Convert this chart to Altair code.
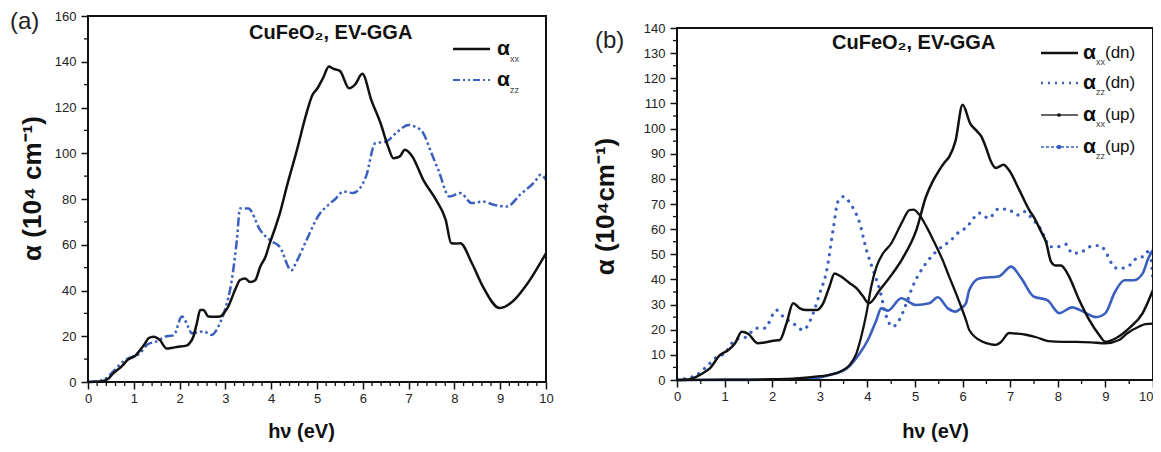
import altair as alt
import pandas as pd

# ---------------- Panel (a) data ----------------
a_xx_e = [0, 0.3, 0.45, 0.55, 0.73, 0.88, 1.03, 1.14, 1.25, 1.32, 1.43, 1.57, 1.72, 1.85, 1.94, 2.15,
          2.22, 2.3, 2.38, 2.45, 2.52, 2.63, 2.75, 2.88, 3.0, 3.06, 3.21, 3.32, 3.43, 3.54, 3.65, 3.76,
          3.88, 3.97, 4.08, 4.19, 4.34, 4.57, 4.75, 4.9, 5.01, 5.13, 5.26, 5.35, 5.5, 5.7, 5.83, 5.99,
          6.19, 6.39, 6.55, 6.67, 6.8, 6.92, 7.08, 7.32, 7.6, 7.81, 7.93, 8.05, 8.13, 8.38, 8.62, 8.99,
          9.27, 9.6, 10]
a_xx_v = [0, 0.3, 1.5, 3.8, 6.7, 9.9, 11.4, 14, 17, 19.1, 19.8, 18.3, 14.6, 15, 15.3, 15.9,
          17, 19.8, 26, 31.5, 31.5, 28.6, 28.5, 28.6, 31, 32.9, 40.2, 44.6, 45.2, 43.7, 44.5, 50.4,
          55, 60.7, 67, 73.8, 85.4, 102, 116, 125.5, 128.4, 132.8, 137.9, 137, 136, 128.4, 130, 134.7,
          123, 113, 103, 97.8, 98.5, 101.5, 98.6, 88.4, 79.6, 70.9, 60.7, 60.5, 60.7, 52, 41.8, 32.3,
          35.2, 43.2, 56.3]

a_zz_e = [0, 0.33, 0.55, 0.77, 0.99, 1.14, 1.29, 1.5, 1.72, 1.87, 2.05, 2.2, 2.26, 2.52, 2.7, 2.88,
          2.99, 3.14, 3.25, 3.32, 3.5, 3.76, 3.97, 4.19, 4.44, 4.55, 4.77, 5.06, 5.21, 5.4, 5.58, 5.78,
          6.07, 6.27, 6.51, 6.76, 7.0, 7.15, 7.32, 7.5, 7.65, 7.89, 8.13, 8.38, 8.62, 8.86, 9.15, 9.43,
          9.76, 9.88, 10]
a_zz_v = [0, 0.9, 4.6, 9, 11.2, 12.6, 16.3, 17.8, 20, 20.4, 28.6, 23.6, 21.3, 22.1, 20.6, 25.7,
          31.5, 44.6, 62, 75.9, 75.9, 66.4, 62, 59, 48.8, 52.5, 62, 73.6, 76.7, 80, 83.3, 82.6,
          89.8, 104.4, 105.1, 109.5, 112.4, 111.5, 108.8, 100, 92.7, 81.1, 82.6, 78.2, 78.9, 77.5, 76.7, 81.8,
          87.7, 90.6, 88.4]

# ---------------- Panel (b) data ----------------
b_xxdn_e = [0, 0.25, 0.41, 0.55, 0.69, 0.9, 1.08, 1.22, 1.36, 1.5, 1.7, 2.02, 2.16, 2.3, 2.44, 2.58,
            2.72, 2.93, 3.07, 3.2, 3.31, 3.45, 3.63, 3.77, 3.9, 4.03, 4.26, 4.53, 4.74, 5.03, 5.23, 5.37,
            5.51, 5.62, 5.72, 5.85, 6.0, 6.16, 6.3, 6.39, 6.5, 6.58, 6.7, 6.86, 6.97, 7.19, 7.4, 7.52,
            7.65, 7.75, 7.86, 7.96, 8.07, 8.15, 8.24, 8.45, 8.66, 8.87, 9.0, 9.22, 9.5, 9.78, 10]
b_xxdn_v = [0, 0.2, 1.3, 2.8, 4.6, 9.9, 11.9, 14.6, 19.2, 18.3, 14.6, 15.6, 15.9, 22.5, 30.5, 28.5,
            27.8, 27.8, 30.5, 37, 42.4, 41.1, 38.5, 36.5, 33.5, 30.5, 35.8, 42.4, 48.4, 59.7, 72.9, 78.9,
            83.5, 86.5, 88.8, 95, 109.5, 102, 99, 97, 92, 87.6, 84.3, 85.6, 83.6, 75.6, 67.6, 64,
            59, 55, 47, 45.5, 45.5, 44, 41, 31.8, 23.9, 17.9, 15.2, 16.6, 20.6, 26.5, 35.8]

b_zzdn_e = [0, 0.41, 0.62, 0.8, 1.0, 1.22, 1.46, 1.67, 1.84, 2.09, 2.23, 2.44, 2.65, 2.86, 3.0, 3.14,
            3.28, 3.38, 3.49, 3.66, 3.84, 3.98, 4.12, 4.26, 4.4, 4.53, 4.67, 4.82, 4.95, 5.23, 5.48, 5.76,
            5.93, 6.1, 6.2, 6.35, 6.55, 6.75, 6.94, 7.15, 7.3, 7.47, 7.63, 7.72, 7.83, 8.0, 8.17, 8.3,
            8.47, 8.64, 8.85, 9.0, 9.1, 9.26, 9.46, 9.65, 9.83, 9.93, 10]
b_zzdn_v = [0, 2, 5.3, 8.6, 10.6, 15.9, 17.2, 20.6, 20.6, 27.8, 25.2, 22.5, 19.9, 26.5, 34.5, 43.1,
            59.7, 70.9, 72.9, 69.6, 62.3, 51.7, 43.7, 35.8, 25.2, 21.2, 23.9, 30.5, 37.1, 46.4, 51.7, 55.7,
            59, 61, 63.6, 66.4, 64.3, 68, 68, 65.6, 67, 63.9, 60.3, 57, 53, 53, 54, 50.4,
            50.6, 52.8, 53.5, 51.3, 47.3, 44.3, 45, 48.3, 49.4, 52, 38.8]

b_xxup_e = [0, 1.0, 2.0, 2.5, 3.0, 3.3, 3.42, 3.63, 3.77, 3.87, 3.98, 4.08, 4.19, 4.33, 4.5, 4.61,
            4.75, 4.88, 4.97, 5.08, 5.24, 5.4, 5.58, 5.72, 5.86, 6.07, 6.14, 6.42, 6.6, 6.7, 6.8, 6.98,
            7.1, 7.33, 7.55, 7.8, 8.1, 8.4, 8.7, 9.0, 9.29, 9.46, 9.7, 9.84, 10]
b_xxup_v = [0, 0.1, 0.3, 0.6, 1.5, 2.4, 3.3, 6, 10.6, 17.2, 26.5, 37.1, 45, 50.4, 54.3, 58.3,
            63.6, 67.6, 67.8, 66, 61, 55, 47.7, 41, 34.5, 23.9, 19.9, 15.2, 14.2, 14, 15, 18.7,
            18.5, 18, 17, 15.5, 15.2, 15.2, 15, 14.6, 15.9, 18.6, 21.2, 22.2, 22.4]

b_zzup_e = [0, 1.0, 2.0, 2.5, 3.0, 3.2, 3.56, 3.84, 4.01, 4.19, 4.29, 4.43, 4.71, 5.02, 5.3, 5.48,
            5.69, 5.86, 5.93, 6.07, 6.14, 6.35, 6.77, 7.02, 7.23, 7.5, 7.78, 8.03, 8.3, 8.53, 8.8, 9.0,
            9.2, 9.4, 9.6, 9.78, 9.9, 10]
b_zzup_v = [0, 0.05, 0.1, 0.3, 1, 2, 4.5, 10.6, 15.9, 23.9, 28.5, 27.6, 32.5, 29.8, 30.5, 32.9,
            28.5, 27.2, 28, 30.5, 35.8, 40.4, 41.3, 45.1, 40.5, 33.1, 31.8, 26.6, 28.9, 27.2, 25, 26.6,
            35, 39.7, 39.7, 42.3, 48.3, 51.7]

# ---------------- ticks ----------------
a_xticks = [0, 1, 2, 3, 4, 5, 6, 7, 8, 9, 10]
a_yticks = [0, 20, 40, 60, 80, 100, 120, 140, 160]
a_xminor = [0.2, 0.4, 0.6, 0.8, 1.2, 1.4, 1.6, 1.8, 2.2, 2.4, 2.6, 2.8, 3.2, 3.4, 3.6, 3.8,
            4.2, 4.4, 4.6, 4.8, 5.2, 5.4, 5.6, 5.8, 6.2, 6.4, 6.6, 6.8, 7.2, 7.4, 7.6, 7.8,
            8.2, 8.4, 8.6, 8.8, 9.2, 9.4, 9.6, 9.8]
a_yminor = [10, 30, 50, 70, 90, 110, 130, 150]
b_xticks = [0, 1, 2, 3, 4, 5, 6, 7, 8, 9, 10]
b_yticks = [0, 10, 20, 30, 40, 50, 60, 70, 80, 90, 100, 110, 120, 130, 140]
b_xminor = [0.5, 1.5, 2.5, 3.5, 4.5, 5.5, 6.5, 7.5, 8.5, 9.5]
b_yminor = [5, 15, 25, 35, 45, 55, 65, 75, 85, 95, 105, 115, 125, 135]

FONT = "Liberation Sans"
BLACK = "#111111"
BLUE = "#3a5fbf"

# geometry (pixels inside the single plot area)
PW, PH = 1065, 366
A_XR, A_YR = [0, 458], [366, 0]
B_XR, B_YR = [589, 1065], [364, 12]


def mk_axis(**kw):
    return alt.Axis(domain=False, grid=False, ticks=True, tickSize=7, tickWidth=1.5, tickColor=BLACK,
                    labelFont=FONT, labelFontSize=13, labelColor="#222222", labelFlush=False,
                    labelOverlap=False, titleFont=FONT, titleFontWeight="bold", titleColor=BLACK,
                    titleAlign="center", titleBaseline="middle", **kw)


ax_xa = mk_axis(values=a_xticks, orient="bottom", labelPadding=3, title="hν (eV)", titleFontSize=20,
                titleAngle=0, titleX=213, titleY=49)
ax_ya = mk_axis(values=a_yticks, orient="left", labelPadding=5, title="α (10⁴ cm⁻¹)", titleFontSize=26,
                titleAngle=270, titleX=-56, titleY=172)
ax_xb = mk_axis(values=b_xticks, orient="bottom", offset=-2, labelPadding=3, title="hν (eV)",
                titleFontSize=20, titleAngle=0, titleX=847, titleY=51,
                labelAlign={"condition": {"test": "datum.value >= 10", "value": "right"}, "value": "center"})
ax_yb = mk_axis(values=b_yticks, orient="left", offset=-589, labelPadding=5, title="α (10⁴cm⁻¹)",
                titleFontSize=26, titleAngle=270, titleX=-72, titleY=190)

sc_xa = alt.Scale(domain=[0, 10], range=A_XR, nice=False, zero=False)
sc_ya = alt.Scale(domain=[0, 160], range=A_YR, nice=False)
sc_xb = alt.Scale(domain=[0, 10], range=B_XR, nice=False, zero=False)
sc_yb = alt.Scale(domain=[0, 140], range=B_YR, nice=False)


def XA(f):
    return alt.X(f + ":Q", scale=sc_xa, axis=ax_xa)


def YA(f):
    return alt.Y(f + ":Q", scale=sc_ya, axis=ax_ya)


def XB(f):
    return alt.X(f + ":Q", scale=sc_xb, axis=ax_xb)


def YB(f):
    return alt.Y(f + ":Q", scale=sc_yb, axis=ax_yb)


def series(e, v, X, Y, **mk):
    df = pd.DataFrame({"e": e, "v": v})
    return alt.Chart(df).mark_line(interpolate="monotone", **mk).encode(x=X("e"), y=Y("v"))


dummy = pd.DataFrame({"d": [0]})


def txt(s, x, y, size, weight="normal", color=BLACK, align="left", baseline="middle"):
    return alt.Chart(dummy).mark_text(text=s, font=FONT, fontSize=size, fontWeight=weight, color=color,
                                      align=align, baseline=baseline).encode(x=alt.value(x), y=alt.value(y))


def hline(x1, x2, y, color, width, dash=None):
    kw = dict(color=color, strokeWidth=width)
    if dash is not None:
        kw["strokeDash"] = dash
    return alt.Chart(dummy).mark_rule(**kw).encode(x=alt.value(x1), x2=alt.value(x2), y=alt.value(y))


def dot(x, y, color, size=22):
    return alt.Chart(dummy).mark_point(filled=True, color=color, size=size, opacity=1).encode(
        x=alt.value(x), y=alt.value(y))


def frame(x1, x2, y1, y2):
    return alt.Chart(dummy).mark_rect(fillOpacity=0, stroke=BLACK, strokeWidth=2).encode(
        x=alt.value(x1), x2=alt.value(x2), y=alt.value(y1), y2=alt.value(y2))


def xminor(vals, X, y0):
    df = pd.DataFrame({"m": vals})
    return alt.Chart(df).mark_rule(color=BLACK, strokeWidth=1.3).encode(
        x=X("m"), y=alt.value(y0), y2=alt.value(y0 + 4))


def yminor(vals, Y, x0):
    df = pd.DataFrame({"m": vals})
    return alt.Chart(df).mark_rule(color=BLACK, strokeWidth=1.3).encode(
        y=Y("m"), x=alt.value(x0), x2=alt.value(x0 - 4))


# ---------------- panel (a) ----------------
panel_a = alt.layer(
    series(a_zz_e, a_zz_v, XA, YA, color=BLUE, strokeWidth=2.5, strokeDash=[9, 3, 2.5, 3, 2.5, 3]),
    series(a_xx_e, a_xx_v, XA, YA, color=BLACK, strokeWidth=2.5),
    xminor(a_xminor, XA, 366),
    yminor(a_yminor, YA, 0),
    frame(0, 458, 0, 366),
    txt("(a)", -78, -6, 24, color="#222222", baseline="top"),
    txt("CuFeO₂, EV-GGA", 161, 17, 20, weight="bold"),
    hline(365, 402, 33, BLACK, 2.5),
    txt("α", 409, 33, 21, weight="bold"),
    txt("xx", 422, 43, 9, color="#444444"),
    hline(365, 402, 64, BLUE, 2.2, dash=[7, 3, 2, 3, 2, 3]),
    txt("α", 409, 64, 21, weight="bold"),
    txt("zz", 422, 74, 9, color="#444444"),
)

# ---------------- panel (b) ----------------
panel_b = alt.layer(
    series(b_zzdn_e, b_zzdn_v, XB, YB, color=BLUE, strokeWidth=3.2, strokeDash=[0.1, 7.5], strokeCap="round"),
    series(b_zzup_e, b_zzup_v, XB, YB, color=BLUE, strokeWidth=2.6),
    series(b_xxup_e, b_xxup_v, XB, YB, color=BLACK, strokeWidth=2.3),
    series(b_xxdn_e, b_xxdn_v, XB, YB, color=BLACK, strokeWidth=2.5),
    xminor(b_xminor, XB, 364),
    yminor(b_yminor, YB, 589),
    frame(589, 1065, 12, 364),
    txt("(b)", 507, 13, 24, color="#222222", baseline="top"),
    txt("CuFeO₂, EV-GGA", 744, 27, 20, weight="bold"),
    hline(953, 990, 37, BLACK, 2.5),
    txt("α", 995, 37, 21, weight="bold"),
    txt("xx", 1008, 46, 9, color="#444444"),
    txt("(dn)", 1017, 37, 17),
    hline(953, 990, 67, BLUE, 2.6, dash=[2, 5]),
    txt("α", 995, 67, 21, weight="bold"),
    txt("zz", 1008, 76, 9, color="#444444"),
    txt("(dn)", 1017, 67, 17),
    hline(953, 990, 99, "#333333", 1.5),
    dot(971, 99, BLACK, 14),
    txt("α", 995, 99, 21, weight="bold"),
    txt("xx", 1008, 108, 9, color="#444444"),
    txt("(up)", 1017, 99, 17),
    hline(953, 990, 131, BLUE, 1.3, dash=[3, 2]),
    dot(971, 131, BLUE, 22),
    txt("α", 995, 131, 21, weight="bold"),
    txt("zz", 1008, 140, 9, color="#444444"),
    txt("(up)", 1017, 131, 17),
)

chart = alt.layer(panel_a, panel_b).resolve_scale(
    x="independent", y="independent"
).properties(
    width=PW, height=PH,
    autosize=alt.AutoSizeParams(type="none"),
    padding={"left": 80, "top": 8, "right": 0, "bottom": 62},
    background="white",
).configure_view(stroke=None)

chart.save("out.html", embed_options={"renderer": "svg", "actions": False})
